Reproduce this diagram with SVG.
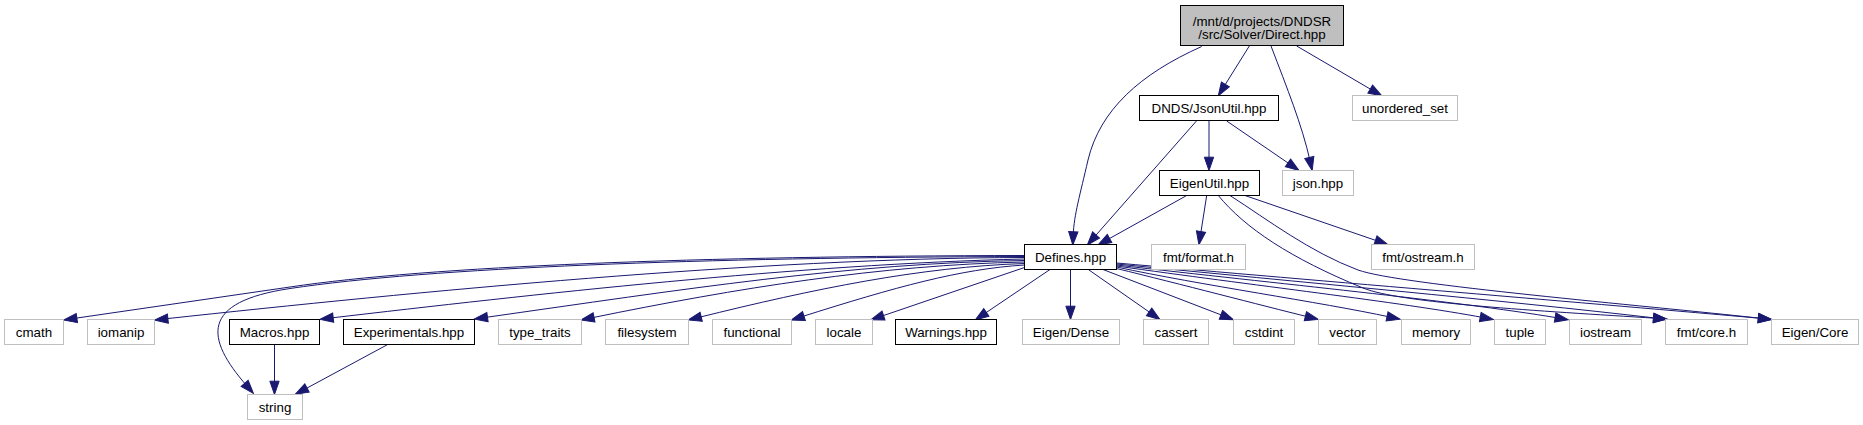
<svg xmlns="http://www.w3.org/2000/svg" width="1863" height="425" viewBox="0 0 1863 425">
<style>
  .bg { fill: #ffffff; }
  .doc rect { fill: #ffffff; stroke: #000000; stroke-width: 1; }
  .ext rect { fill: #ffffff; stroke: #bfbfbf; stroke-width: 1; }
  .root rect { fill: #bfbfbf; stroke: #000000; stroke-width: 1; }
  text { font-family: "Liberation Sans", Arial, Helvetica, sans-serif; font-size: 13.33px; fill: #000000; text-anchor: middle; }
  #edges path { fill: none; stroke: #191970; stroke-width: 1; marker-end: url(#arr); }
</style>
<defs>
  <marker id="arr" markerUnits="userSpaceOnUse" markerWidth="13.3" markerHeight="9.3" refX="3.3" refY="4.65" viewBox="0 0 13.3 9.3" orient="auto" overflow="visible">
    <path d="M0,0 L13.3,4.65 L0,9.3 Z" fill="#191970" stroke="#191970" stroke-width="1"/>
  </marker>
</defs>
<rect class="bg" x="0" y="0" width="1863" height="425"/>

<g id="edges">
  <!-- Direct.hpp -->
  <path d="M1201.7,46.5 C1140,74 1100,110 1088,160 C1080,195 1074,215 1073.2,235"/>
  <path d="M1249.3,46 L1223.6,87.2"/>
  <path d="M1271,46 C1287,88 1302,125 1310,160.7"/>
  <path d="M1296.7,46 L1373.1,90.7"/>
  <!-- JsonUtil.hpp -->
  <path d="M1196.7,120.7 L1093.9,237.5"/>
  <path d="M1209,121 L1209,160.5"/>
  <path d="M1226.7,121 L1290.7,164.8"/>
  <!-- EigenUtil.hpp -->
  <path d="M1186.7,195.5 L1106.7,240.1"/>
  <path d="M1206.7,195.5 L1200.5,234.8"/>
  <path d="M1245,195.5 L1378.6,241.4"/>
  <path d="M1218.3,195.5 C1245,228 1290,258 1363,288 C1400,303.2 1540,311 1656.8,318.3"/>
  <path d="M1230,195.5 C1268,220 1310,252 1358,270 C1400,285 1642.8,305.2 1761.6,318.4"/>
  <!-- Defines.hpp -->
  <path d="M1024.5,255.5 C700,256 430,266 290,287 L73.6,318.5"/>
  <path d="M1024.5,256.5 C700,257.5 430,267.5 290,288.5 C200,302 205,338 246.8,385.8"/>
  <path d="M1024.5,257.5 C760,258 413,292 164.6,318.9"/>
  <path d="M1024.5,259 C800,264 528.5,294.9 329.9,318.1"/>
  <path d="M1024.5,260.5 C850,263 682,289.6 484.2,317.6"/>
  <path d="M1024.5,262 C880,265 737.8,288 590.8,318"/>
  <path d="M1024.5,263.5 C920,267 814.4,288.8 698,317.6"/>
  <path d="M1024.5,265 C960,269 895.8,287 800.8,317"/>
  <path d="M1024.5,267.5 L880.4,316.6"/>
  <path d="M1050,269.5 L983.6,314.3"/>
  <path d="M1070.5,269.5 L1070.5,309.5"/>
  <path d="M1088.3,269.5 L1151.8,313.8"/>
  <path d="M1103,269.5 L1224,316"/>
  <path d="M1116.5,268.5 C1180,284 1260,305 1308.6,317"/>
  <path d="M1116.5,267 C1200,285 1320,302 1390.3,317.1"/>
  <path d="M1116.5,266 C1250,285 1400,302 1483.5,317.6"/>
  <path d="M1116.5,265 C1280,284 1450,300 1558.4,318"/>
  <path d="M1116.5,264 C1300,282 1500,300 1656.8,318.2"/>
  <path d="M1116.5,263 C1320,281 1600,304 1761.6,318.4"/>
  <!-- Macros / Experimentals -->
  <path d="M274.5,344.5 L274.5,384.5"/>
  <path d="M387.7,344.5 L304.1,389.6"/>
</g>

<g id="node_direct" class="root"><rect x="1180.5" y="5.5" width="163" height="40"/><text x="1262" y="25.5">/mnt/d/projects/DNDSR</text><text x="1262" y="38.5">/src/Solver/Direct.hpp</text></g>
<g id="node_jsonutil" class="doc"><rect x="1139.5" y="95.5" width="139" height="25"/><text x="1209" y="112.5">DNDS/JsonUtil.hpp</text></g>
<g id="node_unordered_set" class="ext"><rect x="1352.5" y="95.5" width="105" height="25"/><text x="1405" y="112.5">unordered_set</text></g>
<g id="node_eigenutil" class="doc"><rect x="1159.5" y="170.5" width="100" height="25"/><text x="1209.5" y="187.5">EigenUtil.hpp</text></g>
<g id="node_json" class="ext"><rect x="1282.5" y="170.5" width="71" height="25"/><text x="1318" y="187.5">json.hpp</text></g>
<g id="node_defines" class="doc"><rect x="1024.5" y="244.5" width="92" height="25"/><text x="1070.5" y="261.5">Defines.hpp</text></g>
<g id="node_fmt_format" class="ext"><rect x="1151.5" y="244.5" width="94" height="25"/><text x="1198.5" y="261.5">fmt/format.h</text></g>
<g id="node_fmt_ostream" class="ext"><rect x="1371.5" y="244.5" width="103" height="25"/><text x="1423" y="261.5">fmt/ostream.h</text></g>
<g id="node_cmath" class="ext"><rect x="4.5" y="319.5" width="59" height="25"/><text x="34" y="336.5">cmath</text></g>
<g id="node_iomanip" class="ext"><rect x="87.5" y="319.5" width="67" height="25"/><text x="121" y="336.5">iomanip</text></g>
<g id="node_macros" class="doc"><rect x="229.5" y="319.5" width="90" height="25"/><text x="274.5" y="336.5">Macros.hpp</text></g>
<g id="node_experimentals" class="doc"><rect x="343.5" y="319.5" width="131" height="25"/><text x="409" y="336.5">Experimentals.hpp</text></g>
<g id="node_type_traits" class="ext"><rect x="498.5" y="319.5" width="83" height="25"/><text x="540" y="336.5">type_traits</text></g>
<g id="node_filesystem" class="ext"><rect x="605.5" y="319.5" width="83" height="25"/><text x="647" y="336.5">filesystem</text></g>
<g id="node_functional" class="ext"><rect x="712.5" y="319.5" width="79" height="25"/><text x="752" y="336.5">functional</text></g>
<g id="node_locale" class="ext"><rect x="815.5" y="319.5" width="57" height="25"/><text x="844" y="336.5">locale</text></g>
<g id="node_warnings" class="doc"><rect x="895.5" y="319.5" width="101" height="25"/><text x="946" y="336.5">Warnings.hpp</text></g>
<g id="node_eigen_dense" class="ext"><rect x="1022.5" y="319.5" width="97" height="25"/><text x="1071" y="336.5">Eigen/Dense</text></g>
<g id="node_cassert" class="ext"><rect x="1143.5" y="319.5" width="65" height="25"/><text x="1176" y="336.5">cassert</text></g>
<g id="node_cstdint" class="ext"><rect x="1233.5" y="319.5" width="61" height="25"/><text x="1264" y="336.5">cstdint</text></g>
<g id="node_vector" class="ext"><rect x="1318.5" y="319.5" width="58" height="25"/><text x="1347.5" y="336.5">vector</text></g>
<g id="node_memory" class="ext"><rect x="1401.5" y="319.5" width="69" height="25"/><text x="1436" y="336.5">memory</text></g>
<g id="node_tuple" class="ext"><rect x="1494.5" y="319.5" width="51" height="25"/><text x="1520" y="336.5">tuple</text></g>
<g id="node_iostream" class="ext"><rect x="1569.5" y="319.5" width="72" height="25"/><text x="1605.5" y="336.5">iostream</text></g>
<g id="node_fmt_core" class="ext"><rect x="1665.5" y="319.5" width="82" height="25"/><text x="1706.5" y="336.5">fmt/core.h</text></g>
<g id="node_eigen_core" class="ext"><rect x="1771.5" y="319.5" width="87" height="25"/><text x="1815" y="336.5">Eigen/Core</text></g>
<g id="node_string" class="ext"><rect x="247.5" y="394.5" width="55" height="25"/><text x="275" y="411.5">string</text></g>
</svg>
